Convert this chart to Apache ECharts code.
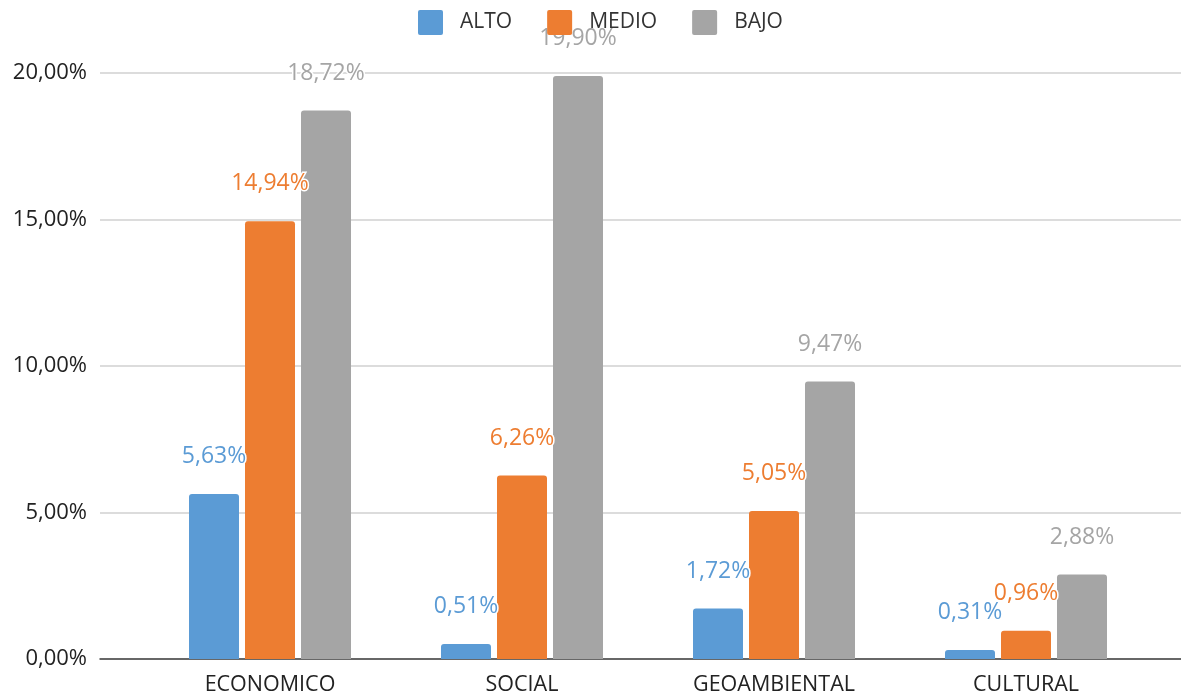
<!DOCTYPE html>
<html>
<head>
<meta charset="utf-8">
<script src="https://cdn.jsdelivr.net/npm/echarts@6/dist/echarts.min.js"></script>
<style>
html,body{margin:0;padding:0;background:#fff;}
#c{width:1181px;height:696px;}
</style>
</head>
<body>
<div id="c"></div>
<script>
const categories = ['ECONOMICO', 'SOCIAL', 'GEOAMBIENTAL', 'CULTURAL'];
const alto = [5.63, 0.51, 1.72, 0.31];
const medio = [14.94, 6.26, 5.05, 0.96];
const bajo = [18.72, 19.90, 9.47, 2.88];
const yTicks = [0, 5, 10, 15, 20];

const FONT = '"Open Sans", "Segoe UI", sans-serif';
const fmt = v => v.toFixed(2).replace('.', ',') + '%';
const colors = ['#5B9BD5', '#ED7D31', '#A5A5A5'];

function barSeries(name, data, color) {
  return {
    name: name,
    type: 'bar',
    xAxisIndex: 1,
    yAxisIndex: 1,
    data: data,
    barWidth: 50,
    barGap: '12%',
    itemStyle: { color: color, borderRadius: [3, 3, 0, 0] },
    label: {
      show: true,
      position: 'top',
      distance: 26,
      formatter: p => fmt(p.value),
      color: color,
      fontFamily: FONT,
      fontSize: 23,
      textBorderColor: '#fff',
      textBorderWidth: 3
    },
    z: 3
  };
}

const chart = echarts.init(document.getElementById('c'));
chart.setOption({
  animation: false,
  color: colors,
  legend: {
    left: 413,
    top: 5,
    itemWidth: 25,
    itemHeight: 25,
    itemGap: 35,
    icon: 'path://M2,0H23A2,2,0,0,1,25,2V23A2,2,0,0,1,23,25H2A2,2,0,0,1,0,23V2A2,2,0,0,1,2,0Z',
    textStyle: { fontFamily: FONT, fontSize: 21, color: '#333', padding: [0, 0, 0, 12] },
    data: ['ALTO', 'MEDIO', 'BAJO']
  },
  grid: [
    { left: 100, right: 0, top: 73, bottom: 37 },
    { left: 144, right: 29, top: 73, bottom: 37 }
  ],
  xAxis: [
    {
      gridIndex: 0, type: 'value', min: 0, max: 1,
      axisLine: { show: true, onZero: false, lineStyle: { color: '#404040', width: 1.5 } },
      axisTick: { show: false }, axisLabel: { show: false }, splitLine: { show: false }
    },
    {
      gridIndex: 1, type: 'category', data: categories,
      axisLine: { show: false }, axisTick: { show: false },
      axisLabel: { fontFamily: FONT, fontSize: 21.5, color: '#222', margin: 15 }
    }
  ],
  yAxis: [
    {
      gridIndex: 0, type: 'value', min: yTicks[0], max: yTicks[yTicks.length - 1], interval: 5,
      axisLine: { show: false }, axisTick: { show: false },
      axisLabel: { formatter: v => fmt(v), fontFamily: FONT, fontSize: 22, color: '#222', margin: 13 },
      splitLine: { lineStyle: { color: '#d0d0d0', width: 1.5 } }
    },
    {
      gridIndex: 1, type: 'value', min: yTicks[0], max: yTicks[yTicks.length - 1], interval: 5,
      show: false, splitLine: { show: false }
    }
  ],
  series: [
    barSeries('ALTO', alto, colors[0]),
    barSeries('MEDIO', medio, colors[1]),
    barSeries('BAJO', bajo, colors[2])
  ]
});
</script>
</body>
</html>
